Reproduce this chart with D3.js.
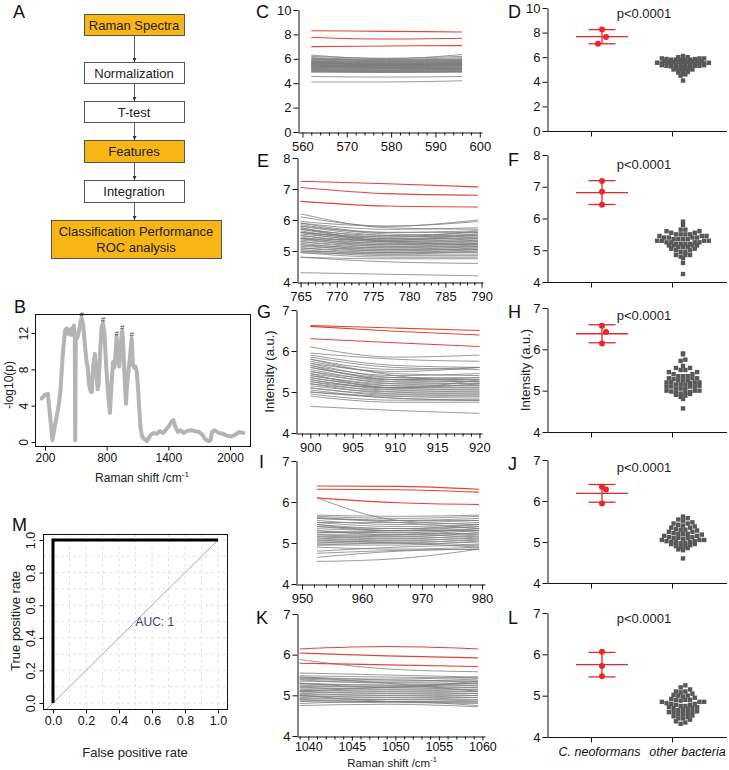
<!DOCTYPE html>
<html><head><meta charset="utf-8">
<script src="https://cdn.jsdelivr.net/npm/d3@7"></script>
<style>
body{margin:0;background:#fff}
svg{font-family:"Liberation Sans",Arial,sans-serif;display:block}
</style>
</head><body>
<svg id="chart" width="729" height="770"></svg>
<script>
// ================= DATA =================
// Panel A: workflow
const flowSteps = ["Raman Spectra", "Normalization", "T-test", "Features", "Integration", "Classification Performance|ROC analysis"];
const flowHighlight = [true, false, false, true, false, true];

// Panel B: -log10(p) along Raman shift
const bShift = [168,200,228,250,272,300,330,350,372,395,410,425,440,455,470,482,490,494,499,515,530,545,557,572,590,605,615,630,645,655,670,686,700,712,722,735,750,765,778,795,812,832,848,862,875,885,897,910,922,935,945,952,962,975,988,1000,1012,1028,1043,1055,1068,1080,1092,1105,1118,1130,1145,1170,1190,1230,1260,1290,1320,1350,1380,1410,1435,1450,1470,1495,1520,1550,1580,1620,1660,1700,1730,1760,1790,1810,1825,1850,1890,1930,1970,2010,2050,2090,2130];
const bLogP  = [4.8,5.2,5.3,2.8,0.2,2.0,3.8,5.6,9.5,12.3,12.5,11.9,12.4,11.8,12.6,12.8,11.4,0.2,11.2,11.5,12.2,13.2,13.6,12.8,10.5,8.8,8.3,6.2,5.6,5.5,8.5,9.7,7.5,5.8,6.5,9.5,12.6,13.1,12.0,8.5,5.5,3.2,6.5,8.8,8.2,9.5,11.6,9.2,8.3,10.5,11.8,12.2,10.5,7.0,4.2,6.5,7.8,9.5,11.4,8.5,8.2,8.3,7.8,6.0,3.5,1.5,0.6,0.3,0.1,0.8,1.0,0.9,1.2,1.0,1.4,1.8,2.3,2.4,1.6,1.1,1.3,1.0,1.2,1.3,1.2,1.1,0.8,0.3,0.1,0.2,1.1,1.3,1.0,0.9,0.7,0.6,0.8,1.1,1.0];
const bPeaks = [557, 765, 897, 952, 1043];
const bXTicks = [200, 800, 1400, 2000];
const bYTicks = [0, 4, 8, 12];

// Panel M: ROC
const rocFPR = [0, 0, 1];
const rocTPR = [0, 1, 1];
const rocTicks = [0, 0.2, 0.4, 0.6, 0.8, 1.0];
const aucLabel = "AUC: 1";

// Panel C (560-600 cm-1)
const cShift = [562, 579, 596];
const cXTicks = [560, 570, 580, 590, 600];
const cYTicks = [0, 2, 4, 6, 8, 10];
const cRed = [[8.3,8.25,8.2],[7.75,7.62,7.68],[7.0,7.05,7.08]];
const cGray = [[6.3,6.0,6.35],[6.2,6.05,6.2],[6.1,5.95,6.1],[6.05,5.9,6.0],[6.0,5.85,5.95],[5.95,5.9,5.9],[5.9,5.8,5.85],[5.85,5.75,5.9],[5.8,5.7,5.8],[5.8,5.75,5.75],[5.75,5.65,5.7],[5.7,5.6,5.75],[5.7,5.65,5.65],[5.65,5.55,5.6],[5.6,5.5,5.65],[5.6,5.55,5.55],[5.55,5.45,5.5],[5.5,5.4,5.55],[5.5,5.45,5.45],[5.45,5.35,5.4],[5.4,5.35,5.45],[5.4,5.3,5.35],[5.35,5.25,5.3],[5.3,5.25,5.35],[5.3,5.2,5.25],[5.25,5.2,5.2],[5.2,5.1,5.2],[5.2,5.15,5.15],[5.15,5.05,5.1],[5.1,5.05,5.15],[5.1,5.0,5.05],[5.05,5.0,5.0],[5.0,4.95,5.0],[5.0,4.9,4.95],[4.95,4.9,4.9],[4.9,4.9,4.95],[5.6,5.6,5.6],[5.75,5.5,5.5],[5.35,5.5,5.6],[5.5,5.3,5.2],[4.55,4.5,4.55],[4.1,4.1,4.2]];

// Panel D
const dYTicks = [0, 2, 4, 6, 8, 10];
const dRed = [8.25, 7.65, 7.1];
const dGray = [6.1,6.0,6.0,5.95,5.9,5.9,5.9,5.85,5.85,5.8,5.8,5.8,5.75,5.75,5.7,5.7,5.7,5.65,5.65,5.6,5.6,5.6,5.55,5.55,5.5,5.5,5.5,5.45,5.45,5.4,5.4,5.4,5.35,5.35,5.3,5.3,5.3,5.25,5.25,5.2,5.2,5.2,5.15,5.1,5.1,5.05,5.0,5.0,4.95,4.9,4.85,4.8,4.75,4.7,4.6,4.5,4.1,5.6,5.4,5.5];

// Panel E (765-790 cm-1)
const eShift = [765, 777, 789.5];
const eXTicks = [765, 770, 775, 780, 785, 790];
const eYTicks = [4, 5, 6, 7, 8];
const eRed = [[7.25,7.17,7.07],[7.05,6.85,6.8],[6.6,6.45,6.42]];
const eGray = [[6.2,5.75,5.7],[6.1,5.8,5.95],[5.95,5.8,6.0],[5.9,5.7,5.75],[5.9,5.6,5.6],[5.85,5.55,5.5],[5.8,5.6,5.65],[5.8,5.5,5.45],[5.75,5.45,5.55],[5.7,5.4,5.4],[5.7,5.5,5.6],[5.65,5.35,5.35],[5.6,5.4,5.5],[5.6,5.3,5.3],[5.55,5.35,5.45],[5.5,5.25,5.25],[5.5,5.3,5.4],[5.45,5.2,5.2],[5.4,5.25,5.35],[5.4,5.15,5.15],[5.35,5.2,5.3],[5.3,5.1,5.1],[5.3,5.15,5.25],[5.25,5.05,5.05],[5.2,5.1,5.2],[5.2,5.0,5.0],[5.15,5.05,5.15],[5.1,4.95,4.95],[5.1,5.0,5.1],[5.05,4.9,4.9],[5.0,4.95,5.05],[5.0,4.85,4.85],[4.95,4.8,4.8],[4.95,4.9,5.0],[4.8,4.75,4.75],[4.8,4.65,4.6],[5.6,5.45,5.65],[5.4,5.35,5.55],[5.75,5.3,5.2],[4.3,4.25,4.2]];

// Panel F
const fYTicks = [4, 5, 6, 7, 8];
const fRed = [7.18, 6.84, 6.43];
const fGray = [5.9,5.8,5.65,5.65,5.6,5.6,5.55,5.55,5.5,5.5,5.5,5.45,5.45,5.4,5.4,5.4,5.4,5.35,5.35,5.35,5.3,5.3,5.3,5.3,5.25,5.25,5.25,5.2,5.2,5.2,5.2,5.15,5.15,5.15,5.1,5.1,5.1,5.05,5.05,5.0,5.0,4.95,4.95,4.85,4.85,4.8,4.75,4.85,4.6,4.25,5.5,5.45,5.35,5.25,5.15];

// Panel G (900-920 cm-1)
const gShift = [900, 910, 920];
const gXTicks = [900, 905, 910, 915, 920];
const gYTicks = [4, 5, 6, 7];
const gRed = [[6.62,6.56,6.5],[6.6,6.48,6.39],[6.3,6.2,6.11]];
const gGray = [[6.1,5.85,5.9],[5.95,5.8,5.75],[5.85,5.6,5.55],[5.8,5.55,5.6],[5.75,5.45,5.4],[5.7,5.5,5.6],[5.7,5.35,5.3],[5.65,5.4,5.45],[5.6,5.3,5.25],[5.6,5.35,5.35],[5.55,5.25,5.2],[5.5,5.3,5.3],[5.5,5.2,5.15],[5.45,5.25,5.25],[5.4,5.15,5.1],[5.4,5.2,5.2],[5.35,5.1,5.05],[5.35,5.15,5.15],[5.3,5.05,5.0],[5.3,5.1,5.1],[5.25,5.0,4.95],[5.2,5.05,5.05],[5.2,4.95,4.9],[5.15,5.0,5.0],[5.1,4.9,4.85],[5.1,4.95,4.95],[5.05,4.85,4.8],[5.0,4.9,4.9],[5.0,4.85,4.8],[4.95,4.8,4.8],[4.9,4.75,4.75],[5.9,5.65,5.6],[5.8,5.4,5.25],[5.65,5.3,5.35],[5.45,5.1,5.2],[5.25,5.1,5.3],[4.65,4.55,4.48]];

// Panel H
const hYTicks = [4, 5, 6, 7];
const hRed = [6.57, 6.42, 6.14];
const hGray = [5.9,5.88,5.75,5.72,5.6,5.55,5.5,5.5,5.45,5.4,5.4,5.35,5.35,5.3,5.3,5.3,5.25,5.25,5.25,5.2,5.2,5.2,5.2,5.15,5.15,5.15,5.1,5.1,5.1,5.1,5.05,5.05,5.05,5.0,5.0,5.0,4.98,4.95,4.95,4.92,4.9,4.88,4.85,4.8,4.57,5.55,5.45,5.35,5.28,5.18,5.12,4.97,4.93];

// Panel I (950-980 cm-1)
const iShift = [952.5, 966, 979.5];
const iXTicks = [950, 960, 970, 980];
const iYTicks = [4, 5, 6, 7];
const iRed = [[6.39,6.38,6.31],[6.31,6.3,6.24],[6.1,5.98,5.94]];
const iGray = [[6.1,5.55,5.45],[5.68,5.65,5.68],[5.65,5.6,5.65],[5.62,5.55,5.6],[5.6,5.55,5.55],[5.55,5.45,5.5],[5.5,5.5,5.55],[5.5,5.4,5.45],[5.45,5.35,5.4],[5.4,5.35,5.45],[5.4,5.3,5.35],[5.35,5.3,5.3],[5.3,5.25,5.35],[5.3,5.2,5.25],[5.25,5.25,5.2],[5.2,5.15,5.25],[5.2,5.2,5.15],[5.15,5.1,5.2],[5.1,5.15,5.1],[5.1,5.05,5.15],[5.05,5.1,5.05],[5.0,5.0,5.1],[5.0,5.05,5.0],[4.95,4.95,5.05],[4.95,5.0,4.95],[5.6,5.5,5.35],[5.45,5.3,5.3],[5.25,5.3,5.4],[5.15,5.2,5.3],[5.05,5.0,4.9],[4.9,4.85,4.9],[4.8,4.9,4.95],[4.75,4.82,4.85],[4.65,4.8,4.85],[4.55,4.62,4.85]];

// Panel J
const jYTicks = [4, 5, 6, 7];
const jRed = [6.34, 6.28, 5.94];
const jGray = [5.62,5.58,5.55,5.52,5.48,5.45,5.42,5.4,5.38,5.35,5.32,5.3,5.3,5.28,5.25,5.25,5.22,5.2,5.2,5.18,5.15,5.15,5.12,5.1,5.1,5.1,5.08,5.05,5.05,5.05,5.02,5.0,5.0,5.0,4.98,4.95,4.95,4.92,4.9,4.9,4.88,4.85,4.82,4.8,4.6,5.45,5.35,5.2,5.12,5.02,4.97];

// Panel K (1040-1060 cm-1)
const kShift = [1039, 1049, 1059.5];
const kXTicks = [1040, 1045, 1050, 1055, 1060];
const kYTicks = [4, 5, 6, 7];
const kRed = [[6.14,6.2,6.14],[6.04,5.97,5.92],[5.79,5.75,5.71]];
const kGray = [[5.88,5.65,5.58],[5.55,5.5,5.45],[5.48,5.45,5.42],[5.45,5.4,5.45],[5.42,5.38,5.35],[5.4,5.35,5.4],[5.38,5.3,5.3],[5.35,5.32,5.35],[5.3,5.25,5.25],[5.28,5.25,5.3],[5.25,5.2,5.2],[5.22,5.2,5.25],[5.2,5.15,5.15],[5.18,5.15,5.2],[5.15,5.1,5.1],[5.12,5.1,5.15],[5.1,5.05,5.05],[5.08,5.05,5.1],[5.05,5.0,5.0],[5.02,5.0,5.05],[5.0,4.95,4.95],[4.98,4.95,5.0],[4.95,4.9,4.9],[4.92,4.9,4.95],[4.9,4.85,4.88],[4.88,4.85,4.85],[4.85,4.82,4.82],[5.45,5.3,5.1],[5.3,5.2,5.35],[5.1,5.2,5.3],[5.0,4.85,4.8],[4.8,4.85,4.75],[4.75,4.78,4.72]];

// Panel L
const lYTicks = [4, 5, 6, 7];
const lRed = [6.06, 5.72, 5.47];
const lGray = [5.25,5.2,5.15,5.1,5.08,5.05,5.02,5.0,4.98,4.95,4.92,4.9,4.9,4.88,4.85,4.85,4.82,4.8,4.8,4.78,4.75,4.75,4.72,4.7,4.7,4.68,4.65,4.65,4.62,4.6,4.6,4.58,4.55,4.55,4.52,4.5,4.48,4.45,4.42,4.38,4.35,4.32,5.1,5.0,4.9,4.85,4.78,4.72,4.6,4.45];

const groups = ["C. neoformans", "other bacteria"];
const pLabel = "p<0.0001";

// ================= DRAWING =================
const svg = d3.select("#chart");
const FONT = "'Liberation Sans', Arial, sans-serif";
const ORANGE = "#F8B516", RED = "#E8262B", REDLINE = "#E0463A", GRAYLINE = "#7c7c7c", SQ = "#585858";

function letter(t, x, y) {
  svg.append("text").attr("x", x).attr("y", y).attr("font-size", 18).attr("fill", "#111").text(t);
}
function styleAxis(g, fs) {
  g.selectAll("path,line").attr("stroke", "#111").attr("stroke-width", 1);
  g.selectAll("text").attr("font-size", fs).attr("fill", "#111").attr("font-family", FONT);
}

// ---------- Panel A ----------
letter("A", 13, 18);
const boxes = [
  {x:84, y:14, w:100, h:21}, {x:84, y:62, w:100, h:21}, {x:84, y:101, w:100, h:21},
  {x:84, y:140, w:100, h:22}, {x:84, y:180, w:100, h:22}, {x:51, y:220, w:170, h:38}
];
const defs = svg.append("defs");
defs.append("marker").attr("id","arr").attr("viewBox","0 0 6 6").attr("refX",6).attr("refY",3)
  .attr("markerWidth",5).attr("markerHeight",5).attr("orient","auto")
  .append("path").attr("d","M0,0L6,3L0,6z").attr("fill","#333");
const gA = svg.append("g");
flowSteps.forEach((s, i) => {
  const b = boxes[i];
  gA.append("rect").attr("x", b.x + 0.5).attr("y", b.y + 0.5).attr("width", b.w).attr("height", b.h)
    .attr("fill", flowHighlight[i] ? ORANGE : "#fff").attr("stroke", "#555").attr("stroke-width", 1);
  const lines = s.split("|");
  lines.forEach((ln, k) => {
    gA.append("text").attr("x", b.x + b.w / 2).attr("y", b.y + b.h / 2 + 5 + (k - (lines.length - 1) / 2) * 16)
      .attr("text-anchor", "middle").attr("font-size", 13).attr("fill", "#222").text(ln);
  });
  if (i < flowSteps.length - 1) {
    const n = boxes[i + 1];
    gA.append("line").attr("x1", 134.5).attr("x2", 134.5).attr("y1", b.y + b.h + 1).attr("y2", n.y)
      .attr("stroke", "#333").attr("stroke-width", 0.8).attr("marker-end", "url(#arr)");
  }
});

// ---------- Panel B ----------
letter("B", 14, 313);
const bx = d3.scaleLinear().domain([200, 2000]).range([45, 230]);
const by = d3.scaleLinear().domain([0, 12]).range([442, 333]);
svg.append("rect").attr("x", 35.5).attr("y", 314.5).attr("width", 215).attr("height", 132)
  .attr("fill", "none").attr("stroke", "#111");
const bLine = d3.line().x((d, i) => bx(bShift[i])).y(d => by(d));
svg.append("path").datum(bLogP).attr("d", bLine).attr("fill", "none").attr("stroke", "#b4b4b4")
  .attr("stroke-width", 4).attr("stroke-linejoin", "round").attr("stroke-linecap", "round");
bPeaks.forEach(p => {
  const v = bLogP[bShift.indexOf(p)];
  svg.append("text").attr("x", bx(p)).attr("y", by(v) - 1).attr("text-anchor", "middle")
    .attr("font-size", 8).attr("fill", "#444").text("#");
});
const bxa = svg.append("g").attr("transform", "translate(0,446.5)")
  .call(d3.axisBottom(bx).tickValues(bXTicks).tickSize(4).tickPadding(3).tickFormat(d3.format("d")));
bxa.select(".domain").remove();
styleAxis(bxa, 12);
const bya = svg.append("g").attr("transform", "translate(35.5,0)")
  .call(d3.axisLeft(by).tickValues(bYTicks).tickSize(4).tickFormat(d3.format("d")));
bya.select(".domain").remove();
styleAxis(bya, 12);
bya.selectAll("text").attr("x", null).attr("dy", null).attr("text-anchor", "middle")
  .attr("transform", "translate(-8,0) rotate(-90)");
svg.append("text").attr("transform", "translate(13,385) rotate(-90)").attr("text-anchor", "middle")
  .attr("font-size", 12).attr("fill", "#222").text("-log10(p)");
const bt = svg.append("text").attr("x", 142).attr("y", 482).attr("text-anchor", "middle")
  .attr("font-size", 12).attr("fill", "#222");
bt.append("tspan").text("Raman shift /cm");
bt.append("tspan").attr("dy", -5).attr("font-size", 8).text("-1");

// ---------- Panel M ----------
letter("M", 12, 531);
const mx = d3.scaleLinear().domain([0, 1]).range([53, 218]);
const my = d3.scaleLinear().domain([0, 1]).range([703, 540]);
const gridVals = d3.range(0, 11).map(i => i / 10);
svg.append("g").selectAll("line").data(gridVals).join("line")
  .attr("x1", d => mx(d)).attr("x2", d => mx(d)).attr("y1", 534).attr("y2", 709)
  .attr("stroke", "#dcdcdc").attr("stroke-dasharray", "3,3").attr("stroke-width", 0.8);
svg.append("g").selectAll("line").data(gridVals).join("line")
  .attr("y1", d => my(d)).attr("y2", d => my(d)).attr("x1", 43).attr("x2", 227)
  .attr("stroke", "#dcdcdc").attr("stroke-dasharray", "3,3").attr("stroke-width", 0.8);
svg.append("line").attr("x1", mx(-0.04)).attr("y1", my(-0.04)).attr("x2", mx(1)).attr("y2", my(1))
  .attr("stroke", "#aaa").attr("stroke-width", 1);
const rocLine = d3.line().x((d, i) => mx(rocFPR[i])).y(d => my(d));
svg.append("path").datum(rocTPR).attr("d", rocLine).attr("fill", "none").attr("stroke", "#000").attr("stroke-width", 3);
svg.append("rect").attr("x", 43.5).attr("y", 534.5).attr("width", 184).attr("height", 175)
  .attr("fill", "none").attr("stroke", "#111");
const mxa = svg.append("g").attr("transform", "translate(0,709.5)")
  .call(d3.axisBottom(mx).tickValues(rocTicks).tickSize(4).tickPadding(3).tickFormat(d3.format(".1f")));
mxa.select(".domain").remove();
styleAxis(mxa, 12.5);
const mya = svg.append("g").attr("transform", "translate(43.5,0)")
  .call(d3.axisLeft(my).tickValues(rocTicks).tickSize(4).tickFormat(d3.format(".1f")));
mya.select(".domain").remove();
styleAxis(mya, 12.5);
mya.selectAll("text").attr("x", null).attr("dy", null).attr("text-anchor", "middle")
  .attr("transform", "translate(-9,0) rotate(-90)");
svg.append("text").attr("x", mx(0.5)).attr("y", my(0.5) + 4).attr("font-size", 12).attr("fill", "#3b4576").text(aucLabel);
svg.append("text").attr("transform", "translate(20,621) rotate(-90)").attr("text-anchor", "middle")
  .attr("font-size", 13).attr("fill", "#222").text("True positive rate");
svg.append("text").attr("x", 135).attr("y", 757).attr("text-anchor", "middle")
  .attr("font-size", 13).attr("fill", "#222").text("False positive rate");

// ---------- Line panels ----------
function linePanel(c) {
  const x = d3.scaleLinear().domain(c.xDomain).range([c.x0, c.x1]);
  const y = d3.scaleLinear().domain([c.yTicks[0], c.yTicks[c.yTicks.length - 1]]).range([c.yb, c.yt]);
  const line = d3.line().x((d, i) => x(c.shift[i])).y(d => y(d)).curve(d3.curveMonotoneX);
  const g = svg.append("g");
  g.selectAll(".gl").data(c.gray).join("path").attr("d", line).attr("fill", "none")
    .attr("stroke", GRAYLINE).attr("stroke-width", 0.85).attr("stroke-opacity", 0.9);
  g.selectAll(".rl").data(c.red).join("path").attr("d", line).attr("fill", "none")
    .attr("stroke", REDLINE).attr("stroke-width", 1.1);
  const minor = d3.range(c.xTicks[0] - c.minor * Math.floor((c.xTicks[0] - c.xDomain[0]) / c.minor), c.xDomain[1] + 1e-6, c.minor)
    .filter(v => !c.xTicks.includes(v) && v >= c.xDomain[0]);
  const xm = g.append("g").attr("transform", `translate(0,${c.yb + 0.5})`)
    .call(d3.axisBottom(x).tickValues(minor).tickSize(3).tickFormat(""));
  xm.select(".domain").remove();
  styleAxis(xm, 13);
  const xa = g.append("g").attr("transform", `translate(0,${c.yb + 0.5})`)
    .call(d3.axisBottom(x).tickValues(c.xTicks).tickSize(c.tick || 5).tickSizeOuter(0).tickPadding(c.pad || 4).tickFormat(d3.format("d")));
  styleAxis(xa, c.fs || 13);
  const ya = g.append("g").attr("transform", `translate(${c.x0 + 0.5},0)`)
    .call(d3.axisLeft(y).tickValues(c.yTicks).tickSize(5).tickSizeOuter(0).tickPadding(2).tickFormat(d3.format("d")));
  styleAxis(ya, 13);
  letter(c.label, c.lx, c.ly);
  if (c.ylabel) {
    svg.append("text").attr("transform", `translate(${c.ylabelX},${(c.yb + c.yt) / 2}) rotate(-90)`)
      .attr("text-anchor", "middle").attr("font-size", 13).attr("fill", "#222").text(c.ylabel);
  }
}

linePanel({label:"C", lx:256, ly:18, shift:cShift, red:cRed, gray:cGray, xTicks:cXTicks, yTicks:cYTicks,
  xDomain:[559, 600.5], x0:298, x1:482, yb:132, yt:10, minor:2});
linePanel({label:"E", lx:257, ly:167, shift:eShift, red:eRed, gray:eGray, xTicks:eXTicks, yTicks:eYTicks,
  xDomain:[764.5, 790.2], x0:297, x1:483, yb:282, yt:158, minor:1});
linePanel({label:"G", lx:257, ly:318, shift:gShift, red:gRed, gray:gGray, xTicks:gXTicks, yTicks:gYTicks,
  xDomain:[898.3, 920.3], x0:296, x1:482, yb:433, yt:310, minor:1, ylabel:"Intensity (a.u.)", ylabelX:274});
linePanel({label:"I", lx:259, ly:468, shift:iShift, red:iRed, gray:iGray, xTicks:iXTicks, yTicks:iYTicks,
  xDomain:[949, 980.5], x0:296, x1:485, yb:584, yt:461, minor:2});
linePanel({label:"K", lx:256, ly:624, shift:kShift, red:kRed, gray:kGray, xTicks:kXTicks, yTicks:kYTicks,
  xDomain:[1038.7, 1060.3], x0:297, x1:485, yb:736, yt:614, minor:1, pad:2, tick:4, fs:12.5});
{
  const t = svg.append("text").attr("x", 392).attr("y", 767).attr("text-anchor", "middle").attr("font-size", 11.5).attr("fill", "#222");
  t.append("tspan").text("Raman shift /cm");
  t.append("tspan").attr("dy", -5).attr("font-size", 7.5).text("-1");
}

// ---------- Dot panels ----------
function swarm(values, y, cx, binH, dx) {
  const pts = values.map(v => ({ v, py: y(v) }));
  const bins = d3.groups(pts, p => Math.round(p.py / binH));
  const out = [];
  bins.forEach(([k, arr]) => {
    arr.sort((a, b) => a.v - b.v);
    const n = arr.length;
    const slots = d3.range(n).map(i => i - (n - 1) / 2).sort((a, b) => Math.abs(a) - Math.abs(b) || a - b);
    arr.forEach((p, i) => out.push({ x: cx + slots[i] * dx, y: p.py }));
  });
  return out;
}
function dodge(values, y, cx, minGap, off) {
  const pts = values.map(v => ({ v, py: y(v) })).sort((a, b) => a.py - b.py);
  let prev = null;
  pts.forEach(p => {
    if (prev && Math.abs(p.py - prev.py) < minGap) p.o = prev.o > 0 ? -off : off;
    else p.o = 0;
    p.x = cx + p.o;
    prev = p;
  });
  return pts;
}

function dotPanel(c) {
  const y = d3.scaleLinear().domain([c.yTicks[0], c.yTicks[c.yTicks.length - 1]]).range([c.yb, c.yt]);
  const xc = d3.scalePoint().domain(groups).range([591, 672]);
  const shift = 11;
  const g = svg.append("g");
  const ya = g.append("g").attr("transform", `translate(547.5,0)`)
    .call(d3.axisLeft(y).tickValues(c.yTicks).tickSize(5).tickSizeOuter(0).tickPadding(2).tickFormat(d3.format("d")));
  styleAxis(ya, 13);
  const xa = g.append("g").attr("transform", `translate(0,${c.yb + 0.5})`)
    .call(d3.axisBottom(xc).tickSize(5).tickSizeOuter(0).tickPadding(5));
  xa.select(".domain").attr("d", `M547.5,0H727`);
  styleAxis(xa, 12.5);
  if (c.showCats) xa.selectAll("text").attr("font-style", "italic").attr("x", (d, i) => [8, 15][i]);
  else xa.selectAll("text").remove();
  const cx2 = xc(groups[1]) + shift;
  const pts = swarm(c.gray, y, cx2, c.binH, 4.7);
  g.selectAll(".sq").data(pts).join("rect").attr("x", d => d.x - 2.2).attr("y", d => d.y - 2.2)
    .attr("width", 4.4).attr("height", 4.4).attr("fill", SQ);
  const cx1 = xc(groups[0]) + shift;
  const m = d3.mean(c.red), s = d3.deviation(c.red);
  g.append("line").attr("x1", cx1).attr("x2", cx1).attr("y1", y(m + s)).attr("y2", y(m - s)).attr("stroke", RED).attr("stroke-width", 1.3);
  g.append("line").attr("x1", cx1 - 26).attr("x2", cx1 + 26).attr("y1", y(m)).attr("y2", y(m)).attr("stroke", RED).attr("stroke-width", 1.3);
  [m + s, m - s].forEach(v => g.append("line").attr("x1", cx1 - 13.5).attr("x2", cx1 + 13.5)
    .attr("y1", y(v)).attr("y2", y(v)).attr("stroke", RED).attr("stroke-width", 1.3));
  g.selectAll(".rd").data(dodge(c.red, y, cx1, 8, 4)).join("circle").attr("cx", d => d.x).attr("cy", d => d.py).attr("r", 3).attr("fill", RED);
  g.append("text").attr("x", 644).attr("y", c.py).attr("text-anchor", "middle").attr("font-size", 13).attr("fill", "#222").text(pLabel);
  letter(c.label, 508, c.ly);
  if (c.ylabel) {
    svg.append("text").attr("transform", `translate(${c.ylabelX},${(c.yb + c.yt) / 2}) rotate(-90)`)
      .attr("text-anchor", "middle").attr("font-size", 13).attr("fill", "#222").text(c.ylabel);
  }
}

dotPanel({label:"D", ly:18, red:dRed, gray:dGray, yTicks:dYTicks, yb:131, yt:8, py:18, binH:2.2});
dotPanel({label:"F", ly:166, red:fRed, gray:fGray, yTicks:fYTicks, yb:282, yt:155, py:169, binH:4.4});
dotPanel({label:"H", ly:318, red:hRed, gray:hGray, yTicks:hYTicks, yb:432, yt:308, py:320, binH:4.4, ylabel:"Intensity (a.u.)", ylabelX:530});
dotPanel({label:"J", ly:470, red:jRed, gray:jGray, yTicks:jYTicks, yb:583, yt:460, py:472, binH:4.4});
dotPanel({label:"L", ly:624, red:lRed, gray:lGray, yTicks:lYTicks, yb:737, yt:613, py:623, binH:4.4, showCats:true});
</script>
</body></html>
